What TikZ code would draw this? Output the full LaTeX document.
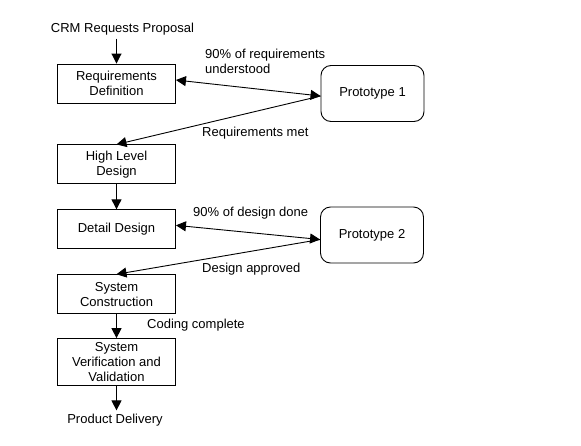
\documentclass[tikz,border=0pt]{standalone}
\usepackage{fontspec}
\setmainfont{Liberation Sans}
\usetikzlibrary{arrows.meta,positioning}

\begin{document}
\begin{tikzpicture}[x=1pt,y=-1pt,
  font=\fontsize{13}{15}\selectfont,
  n/.style={draw,line width=0.9pt,align=center,inner sep=2pt,minimum width=118pt,minimum height=39pt},
  p/.style={draw,line width=0.9pt,rounded corners=10pt,minimum width=103pt,minimum height=56pt},
  l/.style={align=left,inner sep=0pt,anchor=west},
  a/.style={-{Triangle[length=10pt,width=10pt]},line width=0.9pt},
  aa/.style={{Triangle[length=10pt,width=10pt]}-{Triangle[length=10pt,width=10pt]},line width=0.9pt}]
\useasboundingbox[fill=white](0,0) rectangle (581,445);
\node(crm) at (122.5,29){CRM Requests Proposal};
\node[n](req) at (116.5,83.5){Requirements\\Definition};
\node[n,below=41pt of req](hld){High Level\\Design};
\node[n,below=25pt of hld](dd){Detail Design};
\node[n,below=25pt of dd](sc){System\\Construction};
\node[n,below=24pt of sc,minimum height=47pt](svv){System\\Verification and\\Validation};
\node(pd) at (115,420){Product Delivery};
\node[p](p1) at (372.5,93.5){Prototype 1};
\node[p](p2) at (372,235){Prototype 2};
\node[l](lreq) at (205,61){90\% of requirements\\understood};
\node[l](lmet) at (202,133){Requirements met};
\node[l](ldd) at (193,213){90\% of design done};
\node[l](lapp) at (202,269){Design approved};
\node[l](lcod) at (147,325){Coding complete};
\draw[a](crm.south -| req.north)--(req.north);
\draw[aa]([yshift=3.5pt]req.east)--([yshift=-2.5pt]p1.west);\draw[a]([yshift=-2.5pt]p1.west)--(hld.north);
\draw[a](hld)--(dd);
\draw[aa]([yshift=4pt]dd.east)--([yshift=-4.5pt]p2.west);\draw[a]([yshift=-4.5pt]p2.west)--(sc.north);
\draw[a](sc)--(svv);\draw[a](svv)--(pd.north -| svv);
\end{tikzpicture}
\end{document}
